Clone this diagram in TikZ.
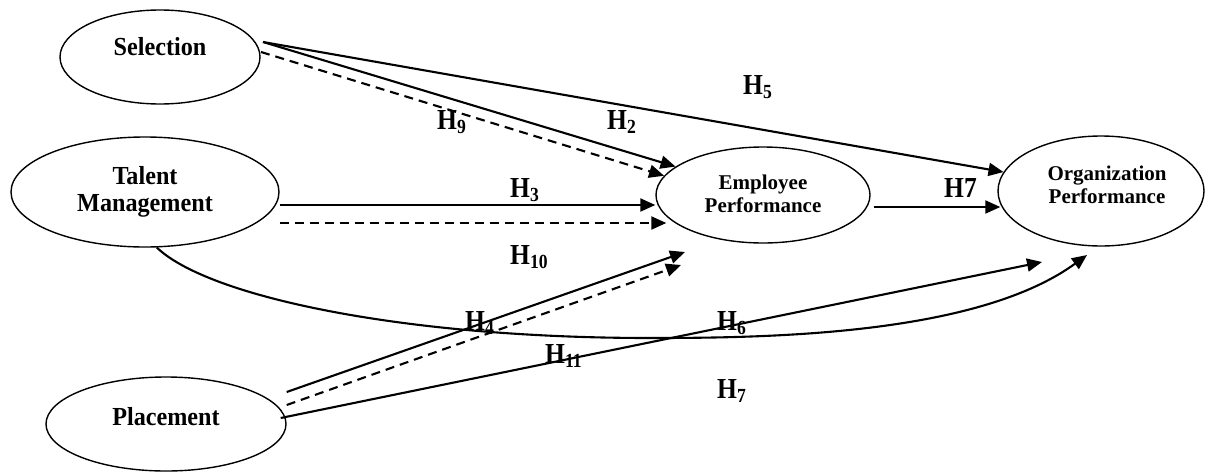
\documentclass[tikz,border=0pt]{standalone}
\usepackage{fontspec}
\setmainfont{Liberation Serif}
\newfontfamily\nfont[FakeStretch=0.93]{Liberation Serif}
\newfontfamily\hfont[FakeStretch=0.88]{Liberation Serif}
\usetikzlibrary{shapes.geometric, arrows.meta, calc}
\newcommand\hyp[1]{H\raisebox{-4pt}{\fontsize{20}{22}\selectfont #1}}
\begin{document}
\begin{tikzpicture}[x=1pt, y=-1pt,
  ell/.style={draw, ellipse, line width=1.4pt, inner sep=0pt},
  bigtxt/.style={font=\nfont\bfseries\fontsize{26}{27}\selectfont, align=center, inner sep=0pt},
  smalltxt/.style={font=\bfseries\fontsize{21}{23}\selectfont, align=center, inner sep=0pt},
  arr/.style={line width=2.1pt, -{Triangle[length=15pt,width=13pt]}},
  dsh/.style={arr, dash pattern=on 9pt off 6pt},
  hlab/.style={font=\hfont\bfseries\fontsize{29}{30}\selectfont, inner sep=0pt, anchor=base west}]
\useasboundingbox (0,0) rectangle (1206,471);

% ellipses
\node[ell, minimum width=200pt, minimum height=94pt,
  label={[bigtxt, yshift=10pt]center:Selection}] (sel) at (160,57) {};
\node[ell, minimum width=268pt, minimum height=110pt,
  label={[bigtxt]center:{Talent\\Management}}] (tal) at (145,192) {};
\node[ell, minimum width=214pt, minimum height=96pt,
  label={[smalltxt, yshift=1.5pt]center:{Employee\\Performance}}] (emp) at (763,195) {};
\node[ell, minimum width=206pt, minimum height=110pt,
  label={[smalltxt, xshift=6pt, yshift=6pt]center:{Organization\\Performance}}] (org) at (1101,191) {};
\node[ell, minimum width=240pt, minimum height=94pt,
  label={[bigtxt, yshift=7pt]center:Placement}] (pla) at (166,424) {};

% connectors from Selection
\draw[arr] ($(sel.center)+(103,-15)$) -- (org.169);
\draw[arr] ($(sel.center)+(103,-15)$) -- (emp.162);
\draw[dsh] ($(sel.center)+(101,-5)$) -- (emp.169);

% connectors from Talent Management
\draw[arr] ([yshift=-13pt]tal.east) -- ([yshift=-10pt]emp.west);
\draw[dsh] ([yshift=-31pt]tal.east) -- ([xshift=11pt,yshift=-28pt]emp.west);
\draw[arr] (tal.-78) .. controls (207,296) and (400,338) .. (650,338)
  .. controls (770,338) and (977,335) .. ($(org.center)+(-14,64)$);

% Employee -> Organization
\draw[arr] ([xshift=3pt,yshift=-12pt]emp.east) -- ([xshift=3pt,yshift=-16pt]org.west);

% connectors from Placement
\draw[arr] ([yshift=32pt]pla.east) -- ($(emp.center)+(-78,57)$);
\draw[dsh] ([yshift=19pt]pla.east) -- ($(emp.center)+(-82,70)$);
\draw[arr] ([xshift=-6pt,yshift=6pt]pla.east) -- ($(org.center)+(-59,71)$);

% hypothesis labels
\node[hlab] (h5) at (743,94) {\hyp{5}};
\node[hlab] (h9) at (437,129) {\hyp{9}};
\node[hlab] (h2) at (607,129) {\hyp{2}};
\node[hlab] (h3) at (510,197) {\hyp{3}};
\node[hlab] (h10) at (510,264) {\hyp{10}};
\node[hlab] (h7a) at (944,197) {H7};
\node[hlab] (h4) at (465,330) {\hyp{4}};
\node[hlab] (h6) at (717,330) {\hyp{6}};
\node[hlab] (h11) at (545,363) {\hyp{11}};
\node[hlab] (h7b) at (717,398) {\hyp{7}};
\end{tikzpicture}
\end{document}
